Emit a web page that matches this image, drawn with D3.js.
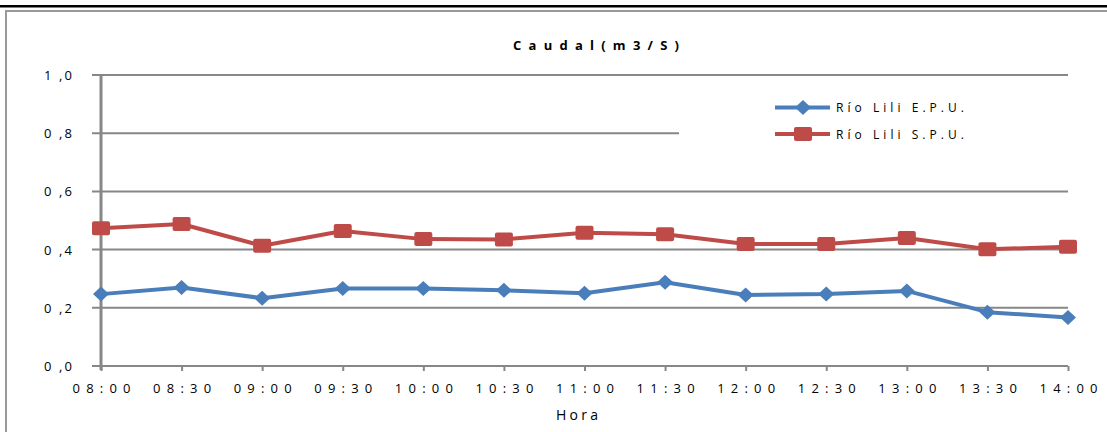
<!DOCTYPE html>
<html>
<head>
<meta charset="utf-8">
<script src="https://cdn.jsdelivr.net/npm/d3@7"></script>
<style>
  html, body { margin: 0; padding: 0; background: #fff; }
  svg { display: block; }
  text { font-family: "Open Sans", "Liberation Sans", sans-serif; fill: #000; white-space: pre; }
</style>
</head>
<body>
<svg id="chart" width="1107" height="432"></svg>
<script>
// Time of each sample
const horas = ["08:00","08:30","09:00","09:30","10:00","10:30","11:00","11:30","12:00","12:30","13:00","13:30","14:00"];
// Flow (m3/s) per station
const epu = [0.247, 0.270, 0.233, 0.266, 0.266, 0.260, 0.250, 0.288, 0.244, 0.247, 0.258, 0.185, 0.167];
const spu = [0.473, 0.488, 0.413, 0.464, 0.436, 0.435, 0.458, 0.453, 0.419, 0.419, 0.440, 0.401, 0.410];
const yTicks = [0, 0.2, 0.4, 0.6, 0.8, 1.0];
const yTickLabels = ["0 ,0", "0 ,2", "0 ,4", "0 ,6", "0 ,8", "1 ,0"];
const seriesNames = ["Río Lili E.P.U.", "Río Lili S.P.U."];
const colors = ["#4A7EBB", "#BE4B48"];

const svg = d3.select("#chart");
const W = 1107, H = 432;

// Outer frame: heavy top rule and grey chart border
svg.append("rect").attr("x", 0).attr("y", 5).attr("width", W).attr("height", 2.5).attr("fill", "#000");
svg.append("path").attr("d", `M6,${H} V11 H${W}`).attr("fill", "none").attr("stroke", "#999").attr("stroke-width", 2);

const x = d3.scalePoint().domain(horas).range([101, 1068]);
const y = d3.scaleLinear().domain([0, 1]).range([366, 75]);

// Horizontal gridlines with short ticks left of the axis
svg.append("g").selectAll("line").data(yTicks).join("line")
  .attr("x1", 92).attr("x2", 1068)
  .attr("y1", d => y(d)).attr("y2", d => y(d))
  .attr("stroke", "#878787").attr("stroke-width", 2);

// Y tick labels
svg.append("g").selectAll("text").data(yTicks).join("text")
  .attr("x", 72).attr("y", d => y(d) + 5)
  .attr("text-anchor", "end")
  .attr("font-size", 13)
  .attr("textLength", 28).attr("lengthAdjust", "spacing")
  .text((d, i) => yTickLabels[i]);

// Vertical axis line
svg.append("line").attr("x1", 101).attr("x2", 101).attr("y1", 75).attr("y2", 370)
  .attr("stroke", "#878787").attr("stroke-width", 3);

// X axis ticks and labels
const xAxis = d3.axisBottom(x).tickSize(5).tickPadding(13);
const gx = svg.append("g").attr("transform", `translate(0,${y(0)})`).call(xAxis);
gx.select(".domain").remove();
gx.selectAll(".tick line").attr("stroke", "#878787").attr("stroke-width", 2);
gx.selectAll(".tick text")
  .attr("font-size", 13).attr("font-family", "Open Sans, Liberation Sans, sans-serif")
  .attr("fill", "#000")
  .attr("textLength", 58).attr("lengthAdjust", "spacing");

// Title and axis title
svg.append("text").attr("x", 596).attr("y", 50).attr("text-anchor", "middle")
  .attr("font-size", 13).attr("font-weight", "bold")
  .attr("textLength", 166).attr("lengthAdjust", "spacing")
  .text("Caudal(m3/S)");
svg.append("text").attr("x", 577).attr("y", 420).attr("text-anchor", "middle")
  .attr("font-size", 14)
  .attr("textLength", 42).attr("lengthAdjust", "spacing")
  .text("Hora");

// Legend panel (white background sits over the gridline)
const legend = svg.append("g");
legend.append("rect").attr("x", 679).attr("y", 85).attr("width", 400).attr("height", 95).attr("fill", "#fff");

// Series lines and markers
const line = d3.line().x((d, i) => x(horas[i])).y(d => y(d));
const diamond = (cx, cy) => `M${cx},${cy - 7.5} L${cx + 8},${cy} L${cx},${cy + 7.5} L${cx - 8},${cy} Z`;

[epu, spu].forEach((vals, k) => {
  svg.append("path").datum(vals).attr("d", line)
    .attr("fill", "none").attr("stroke", colors[k]).attr("stroke-width", 4)
    .attr("stroke-linejoin", "round");
  const g = svg.append("g");
  if (k === 0) {
    g.selectAll("path").data(vals).join("path")
      .attr("d", (d, i) => diamond(x(horas[i]), y(d))).attr("fill", colors[k]);
  } else {
    g.selectAll("rect").data(vals).join("rect")
      .attr("x", (d, i) => x(horas[i]) - 9).attr("y", d => y(d) - 7)
      .attr("width", 18).attr("height", 14).attr("rx", 2).attr("fill", colors[k]);
  }
});

// Legend entries
const ly = [107.5, 134];
seriesNames.forEach((name, k) => {
  legend.append("line").attr("x1", 775).attr("x2", 830).attr("y1", ly[k]).attr("y2", ly[k])
    .attr("stroke", colors[k]).attr("stroke-width", 4);
  if (k === 0) {
    legend.append("path").attr("d", diamond(803, ly[k])).attr("fill", colors[k]);
  } else {
    legend.append("rect").attr("x", 794).attr("y", ly[k] - 7).attr("width", 18).attr("height", 14)
      .attr("rx", 2).attr("fill", colors[k]);
  }
  legend.append("text").attr("x", 836).attr("y", ly[k] + 4.5)
    .attr("font-size", 12)
    .attr("textLength", 128).attr("lengthAdjust", "spacing")
    .text(name);
});
</script>
</body>
</html>
